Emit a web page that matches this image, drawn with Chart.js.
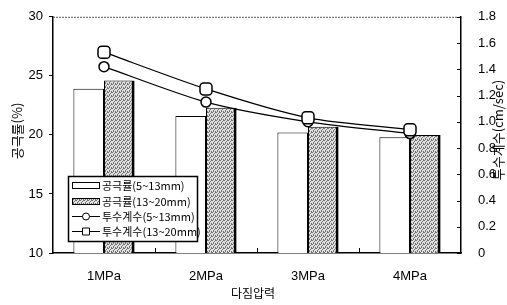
<!DOCTYPE html>
<html>
<head>
<meta charset="utf-8">
<script src="https://cdn.jsdelivr.net/npm/chart.js@4"></script>
<style>
  html, body { margin: 0; padding: 0; background: #fff; }
  #wrap { width: 507px; height: 305px; }
</style>
</head>
<body>
<div id="wrap"><canvas id="myChart" width="507" height="305"></canvas></div>
<script>
const categories = ["1MPa", "2MPa", "3MPa", "4MPa"];
const porosity513 = [23.9, 21.6, 20.2, 19.8];
const porosity1320 = [24.6, 22.3, 20.7, 20.0];
const perm513 = [1.42, 1.15, 1.00, 0.91];
const perm1320 = [1.53, 1.25, 1.03, 0.94];
const labels = ["공극률(5~13mm)", "공극률(13~20mm)", "투수계수(5~13mm)", "투수계수(13~20mm)"];

const latin = '"Liberation Sans", Arial, sans-serif';
const kor = '"Noto Sans CJK KR", sans-serif';

// stippled gray fill for the second bar series
const pc = document.createElement('canvas');
pc.width = 4; pc.height = 4;
const pctx = pc.getContext('2d');
pctx.fillStyle = '#e2e2e2';
pctx.fillRect(0, 0, 4, 4);
pctx.fillStyle = '#707070';
[[0, 0], [2, 1], [1, 2], [3, 3], [3, 0], [1, 3]].forEach(p => pctx.fillRect(p[0], p[1], 1, 1));
const stipple = pctx.createPattern(pc, 'repeat');

const decor = {
  id: 'decor',
  afterDraw(chart) {
    const c = chart.ctx;
    const a = chart.chartArea;
    const x = chart.scales.x;
    const y1 = chart.scales.y1;
    c.save();

    // dotted top frame
    c.strokeStyle = '#555';
    c.lineWidth = 1;
    c.setLineDash([2, 1]);
    c.beginPath();
    c.moveTo(a.left, a.top + 0.5);
    c.lineTo(a.right, a.top + 0.5);
    c.stroke();
    c.setLineDash([]);

    // inward ticks on the right axis
    c.strokeStyle = '#000';
    y1.ticks.forEach(t => {
      const py = Math.round(y1.getPixelForValue(t.value)) + 0.5;
      c.beginPath();
      c.moveTo(a.right - 4, py);
      c.lineTo(a.right, py);
      c.stroke();
    });

    // inward ticks between categories
    for (let i = 1; i < categories.length; i++) {
      const px = Math.round((x.getPixelForValue(i - 1) + x.getPixelForValue(i)) / 2) + 0.5;
      c.beginPath();
      c.moveTo(px, a.bottom);
      c.lineTo(px, a.bottom - 5);
      c.stroke();
    }

    // axis titles
    c.fillStyle = '#000';
    c.font = '13px ' + kor;
    c.textAlign = 'center';
    c.textBaseline = 'middle';
    c.save();
    c.translate(17, 131);
    c.rotate(-Math.PI / 2);
    c.fillText('공극률(%)', 0, 0);
    c.restore();
    c.save();
    c.translate(498, 130);
    c.rotate(-Math.PI / 2);
    c.fillText('투수계수(cm/sec)', 0, 0);
    c.restore();
    c.font = '12px ' + kor;
    c.fillText('다짐압력', 253, 293);

    // legend box inside the plot
    const lx = 68, ly = 176, lw = 129, lh = 65;
    c.fillStyle = '#fff';
    c.fillRect(lx, ly, lw, lh);
    c.lineWidth = 1.5;
    c.strokeStyle = '#000';
    c.strokeRect(lx + 0.5, ly + 0.5, lw, lh);
    c.lineWidth = 1;
    const rows = [185, 201, 216, 231];
    c.font = '11px ' + kor;
    c.textAlign = 'left';
    rows.forEach((ry, i) => {
      const sx = 72, ex = 100;
      if (i === 0 || i === 1) {
        c.fillStyle = i === 0 ? '#fff' : stipple;
        c.fillRect(sx, ry - 3, ex - sx, 6);
        c.strokeStyle = '#000';
        c.strokeRect(sx + 0.5, ry - 2.5, ex - sx - 1, 6);
      } else {
        c.strokeStyle = '#000';
        c.beginPath();
        c.moveTo(sx, ry + 0.5);
        c.lineTo(ex, ry + 0.5);
        c.stroke();
        c.fillStyle = '#fff';
        c.beginPath();
        if (i === 2) {
          c.arc(86, ry + 0.5, 3.5, 0, Math.PI * 2);
          c.fill();
          c.stroke();
        } else {
          c.rect(82.5, ry - 3, 7, 7);
          c.fill();
          c.stroke();
        }
      }
      c.fillStyle = '#000';
      c.fillText(labels[i], 102, ry + 1);
    });

    c.restore();
  }
};

new Chart(document.getElementById('myChart'), {
  data: {
    labels: categories,
    datasets: [
      {
        type: 'line',
        label: labels[2],
        data: perm513,
        yAxisID: 'y1',
        borderColor: '#000',
        borderWidth: 1.3,
        tension: 0.25,
        pointStyle: 'circle',
        pointRadius: 5,
        pointBorderWidth: 1.5,
        pointBackgroundColor: '#fff',
        pointBorderColor: '#000',
        order: 1
      },
      {
        type: 'line',
        label: labels[3],
        data: perm1320,
        yAxisID: 'y1',
        borderColor: '#000',
        borderWidth: 1.3,
        tension: 0.25,
        pointStyle: 'rectRounded',
        pointRadius: 7,
        pointBorderWidth: 1.5,
        pointBackgroundColor: '#fff',
        pointBorderColor: '#000',
        order: 0
      },
      {
        type: 'bar',
        label: labels[0],
        data: porosity513,
        yAxisID: 'y',
        backgroundColor: '#fff',
        borderColor: '#000',
        borderWidth: { top: 1, left: 1, right: 1, bottom: 0 },
        categoryPercentage: 0.6,
        barPercentage: 1.0,
        order: 2
      },
      {
        type: 'bar',
        label: labels[1],
        data: porosity1320,
        yAxisID: 'y',
        backgroundColor: stipple,
        borderColor: '#000',
        borderWidth: { top: 1, left: 1, right: 3, bottom: 0 },
        categoryPercentage: 0.6,
        barPercentage: 1.0,
        order: 3
      }
    ]
  },
  options: {
    responsive: false,
    animation: false,
    layout: { padding: { top: 11, left: 0, right: 0, bottom: 0 }, autoPadding: false },
    plugins: { legend: { display: false }, tooltip: { enabled: false } },
    scales: {
      x: {
        grid: { display: false },
        border: { display: true, color: '#000', width: 1.5 },
        ticks: { color: '#000', font: { family: latin, size: 13 }, padding: 8 },
        afterFit(s) { s.height = 52; }
      },
      y: {
        position: 'left',
        min: 10, max: 30,
        grid: { display: true, drawOnChartArea: false, color: '#000', tickLength: 4 },
        border: { display: true, color: '#000', width: 1.5 },
        ticks: { stepSize: 5, color: '#000', font: { family: latin, size: 13 }, padding: 6 },
        afterFit(s) { s.width = 53; }
      },
      y1: {
        position: 'right',
        min: 0, max: 1.8,
        grid: { display: false },
        border: { display: true, color: '#000', width: 1.5 },
        ticks: { stepSize: 0.2, color: '#000', font: { family: latin, size: 13 }, padding: 9 },
        afterFit(s) { s.width = 46; }
      }
    }
  },
  plugins: [decor]
});
</script>
</body>
</html>
